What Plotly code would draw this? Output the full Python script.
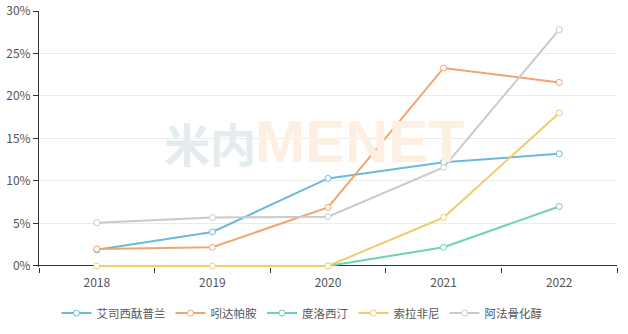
import plotly.graph_objects as go

years = ["2018", "2019", "2020", "2021", "2022"]
names = ["艾司西酞普兰", "吲达帕胺", "度洛西汀", "索拉非尼", "阿法骨化醇"]
escitalopram = [1.9, 4.0, 10.3, 12.2, 13.2]
indapamide = [2.0, 2.2, 6.9, 23.3, 21.6]
duloxetine = [None, None, 0.0, 2.2, 7.0]
sorafenib = [0.0, 0.0, 0.0, 5.7, 18.0]
alfacalcidol = [5.1, 5.7, 5.8, 11.6, 27.8]
series = [escitalopram, indapamide, duloxetine, sorafenib, alfacalcidol]
colors = ["#6cbadb", "#f0a56e", "#6dd3b2", "#f0cd6c", "#c9cacd"]
yticks = [0, 5, 10, 15, 20, 25, 30]

fig = go.Figure()
for name, vals, c in zip(names, series, colors):
    fig.add_trace(go.Scatter(
        x=years, y=vals, name=name, mode="lines+markers",
        line=dict(color=c, width=2),
        marker=dict(symbol="circle", size=6, color="white", line=dict(color=c, width=1)),
        cliponaxis=False,
    ))

fig.add_annotation(
    xref="paper", yref="paper", x=0.379, xanchor="right", y=0.49, yanchor="middle",
    text="<b>米内</b>", showarrow=False,
    font=dict(size=46, family="Noto Sans CJK SC", color="#e3edf0"),
)
fig.add_annotation(
    xref="paper", yref="paper", x=0.371, xanchor="left", y=0.49, yanchor="middle",
    text="<b>MENET</b>", showarrow=False,
    font=dict(size=60, family="Liberation Sans", color="#fdefe2"),
)

fig.update_layout(
    width=628, height=334,
    margin=dict(l=39, r=11, t=11, b=67, autoexpand=False),
    paper_bgcolor="white", plot_bgcolor="white",
    font=dict(family="Noto Sans CJK SC", size=12, color="#555"),
    showlegend=True,
    legend=dict(orientation="h", x=0.455, xanchor="center", y=-0.18, yanchor="middle",
                font=dict(size=11.5, color="#555"), itemwidth=30),
    xaxis=dict(type="category", range=[-0.5, 4.5], tickson="boundaries",
               showline=False,
               ticks="outside", ticklen=5, tickcolor="#333",
               ticklabelstandoff=7,
               showgrid=False, tickfont=dict(size=12, color="#555")),
    yaxis=dict(range=[-0.12, 30], tickvals=yticks, ticktext=[f"{v}%" for v in yticks],
               showline=True, linecolor="#333", linewidth=1,
               ticks="outside", ticklen=5, tickcolor="#333",
               showgrid=True, gridcolor="#ebebeb",
               zeroline=True, zerolinecolor="#333", zerolinewidth=1,
               tickfont=dict(size=12, color="#555")),
)

fig.write_html("out.html")
